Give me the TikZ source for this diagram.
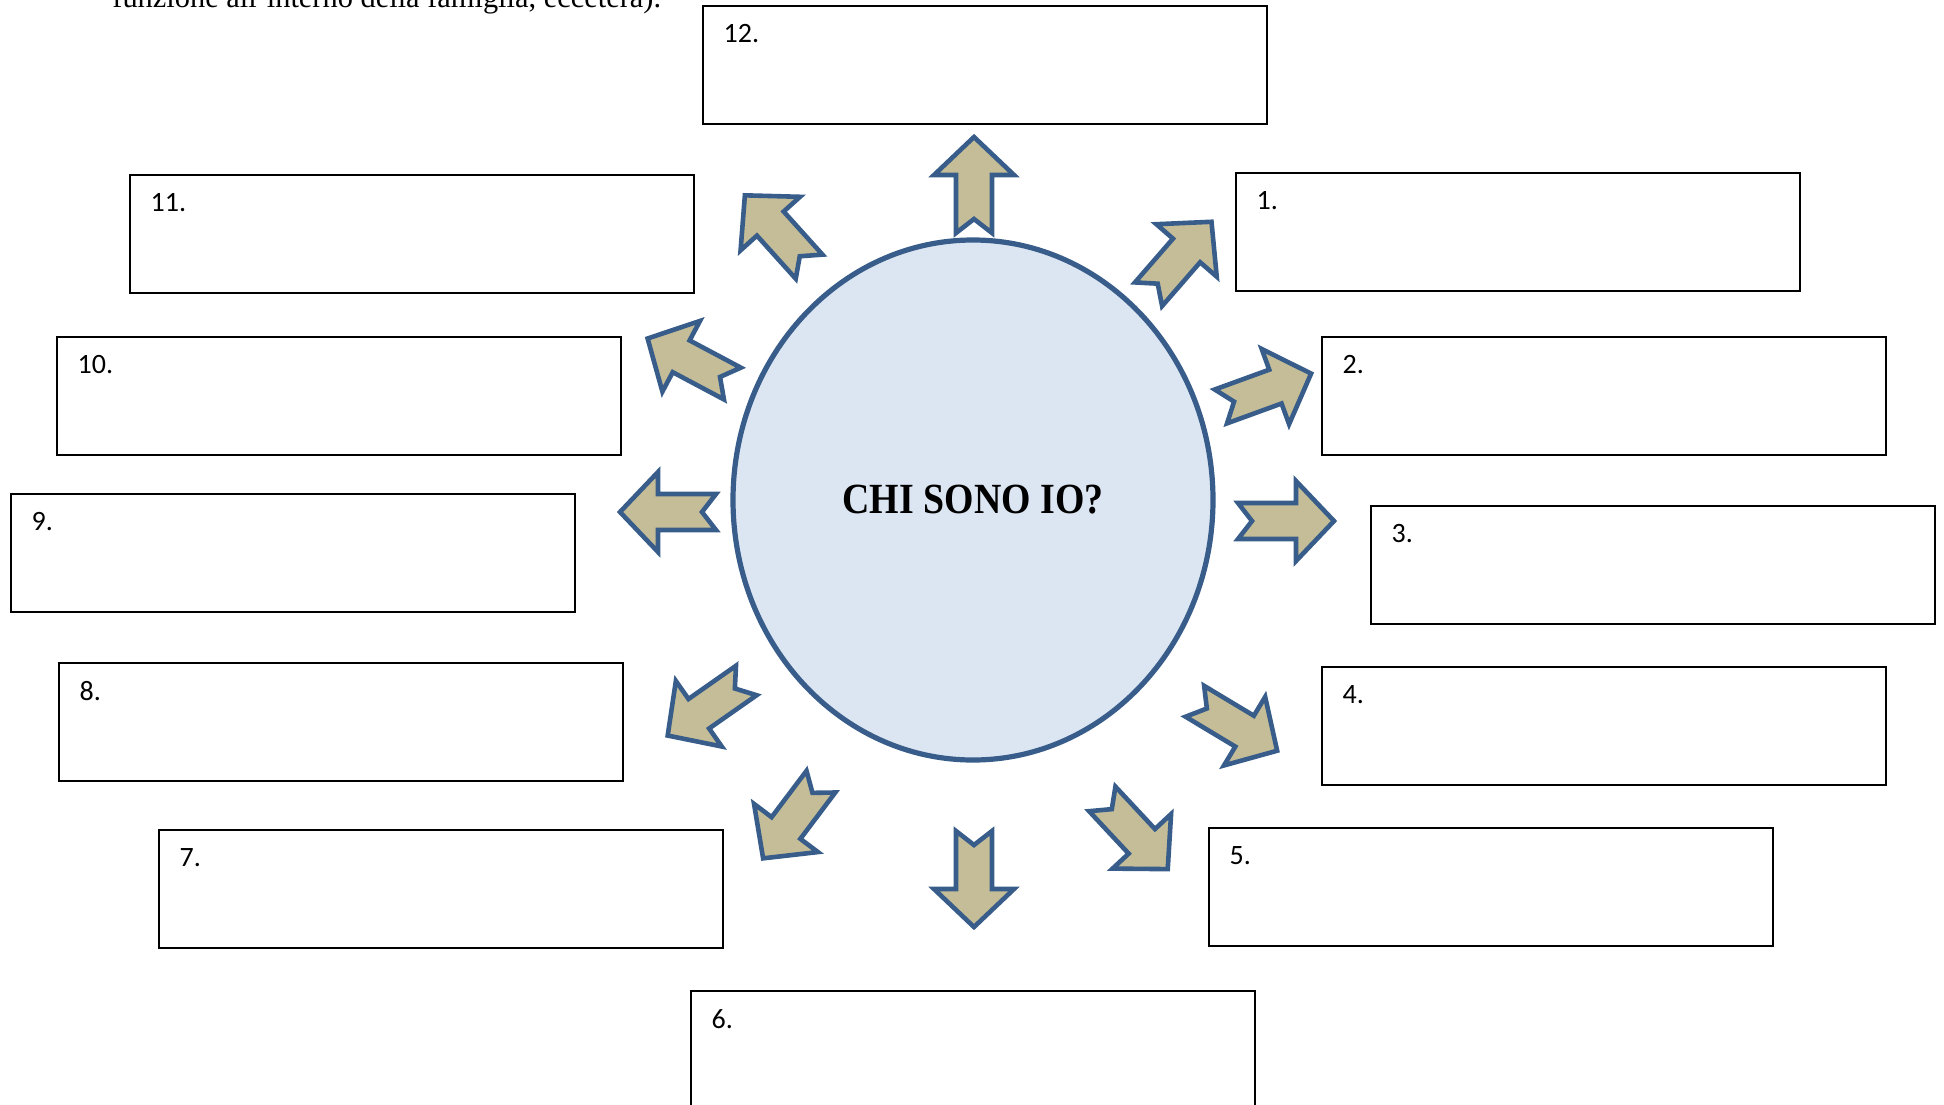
\documentclass[tikz,border=0pt]{standalone}
\usepackage{fontspec}
\setmainfont{Liberation Serif}
\newfontfamily\boxfont{Carlito}
\usetikzlibrary{shapes.geometric}

\definecolor{ringblue}{RGB}{56,93,138}
\definecolor{ringfill}{RGB}{220,230,242}
\definecolor{arrowtan}{RGB}{196,189,151}

\tikzset{
  answer/.style={draw, line width=0.7pt, minimum width=282pt, minimum height=59pt, inner sep=0pt},
  num/.style={anchor=north west, inner sep=0pt, xshift=10.5pt, yshift=-9.5pt,
              font=\boxfont\fontsize{14}{16}\selectfont},
  bigarrow/.pic={
    \draw[line width=2.3pt, draw=ringblue, fill=arrowtan, line join=miter]
      (48,0) -- (10,40) -- (10,18) -- (-48,18) -- (-34,0)
      -- (-48,-18) -- (10,-18) -- (10,-40) -- cycle;
  }
}

\begin{document}
\begin{tikzpicture}[x=0.5pt, y=-0.5pt]
  \useasboundingbox (0,0) rectangle (1944,1104);

  \node[anchor=base west, inner sep=0pt, font=\fontsize{15.2}{18}\selectfont] (intro)
    at (112,7) {funzione all’interno della famiglia, eccetera).};

  % centre
  \node[ellipse, draw=ringblue, fill=ringfill, line width=2.6pt,
        minimum width=240pt, minimum height=260pt, inner sep=0pt] (io) at (973,500)
    {\fontsize{21.5}{24}\selectfont\bfseries\scalebox{0.88}[1]{CHI SONO IO?}};

  % answer boxes
  \node[answer, label={[num]north west:12.}] (q12) at (985,65)   {};
  \node[answer, label={[num]north west:1.}]  (q1)  at (1518,232) {};
  \node[answer, label={[num]north west:2.}]  (q2)  at (1604,396) {};
  \node[answer, label={[num]north west:3.}]  (q3)  at (1653,565) {};
  \node[answer, label={[num]north west:4.}]  (q4)  at (1604,726) {};
  \node[answer, label={[num]north west:5.}]  (q5)  at (1491,887) {};
  \node[answer, label={[num]north west:6.}]  (q6)  at (973,1050) {};
  \node[answer, label={[num]north west:7.}]  (q7)  at (441,889)  {};
  \node[answer, label={[num]north west:8.}]  (q8)  at (341,722)  {};
  \node[answer, label={[num]north west:9.}]  (q9)  at (293,553)  {};
  \node[answer, label={[num]north west:10.}] (q10) at (339,396)  {};
  \node[answer, label={[num]north west:11.}] (q11) at (412,234)  {};

  % arrows round the centre
  \pic[rotate=90]  at (974,185)  {bigarrow};
  \pic[rotate=49]  at (1180,258) {bigarrow};
  \pic[rotate=20]  at (1266,390) {bigarrow};
  \pic[rotate=0]   at (1286,521) {bigarrow};
  \pic[rotate=-31] at (1236,726) {bigarrow};
  \pic[rotate=-47] at (1135,834) {bigarrow};
  \pic[rotate=-90] at (974,879)  {bigarrow};
  \pic[rotate=233] at (792,820)  {bigarrow};
  \pic[rotate=215] at (707,708)  {bigarrow};
  \pic[rotate=180] at (668,512)  {bigarrow};
  \pic[rotate=152] at (690,361)  {bigarrow};
  \pic[rotate=132] at (777,231)  {bigarrow};
\end{tikzpicture}
\end{document}
